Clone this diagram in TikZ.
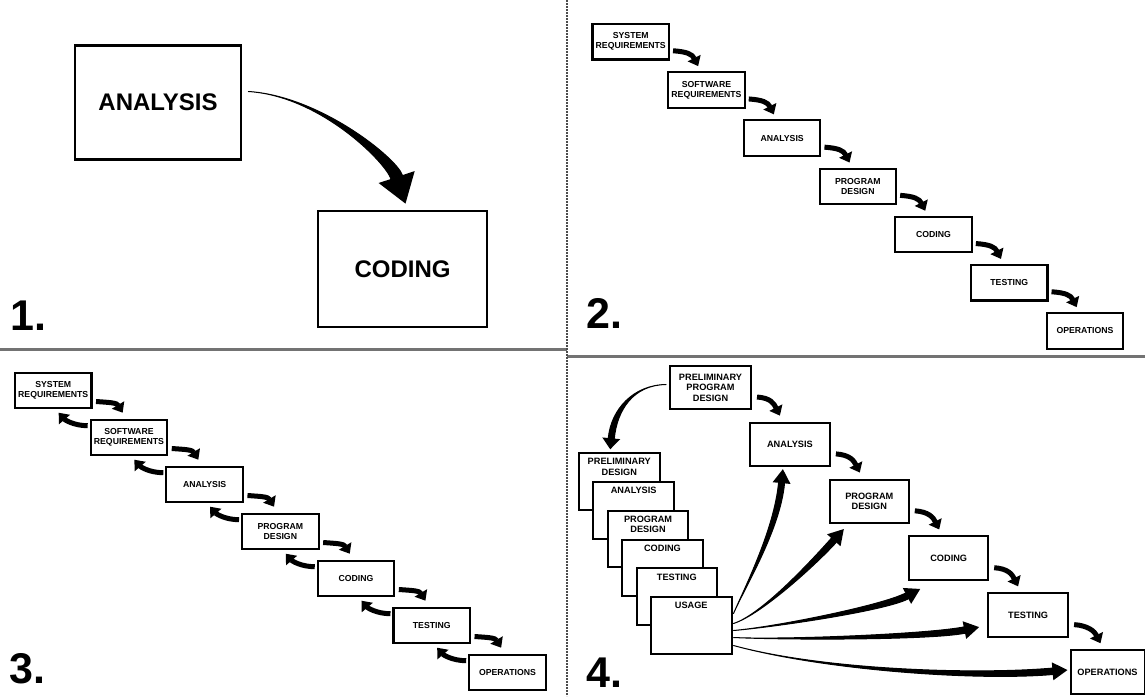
\documentclass[tikz,border=0pt]{standalone}
\usepackage{fontspec}
\setmainfont{Liberation Sans}
\usetikzlibrary{calc,positioning,arrows.meta}

% tapered arrow: start, control 1, control 2, tip, shaft half width, head half width, head length
\newcommand\taper[7]{%
  \coordinate (tT) at (#4);
  \coordinate (tC) at (#3);
  \coordinate (tE) at ($(tT)!#7!(tC)$);
  \coordinate (tA) at ($(tE)!#5!90:(tC)$);
  \coordinate (tB) at ($(tE)!#5!-90:(tC)$);
  \filldraw[line width=1pt,line join=round] (#1) .. controls (#2) and ($(tC)+(tA)-(tE)$) .. (tA)
    -- (tB) .. controls ($(tC)+(tB)-(tE)$) and (#2) .. (#1) -- cycle;
  \fill ($(tE)!#6!90:(tC)$) -- (tT) -- ($(tE)!#6!-90:(tC)$) -- cycle;
}

\begin{document}
\begin{tikzpicture}[x=1pt,y=-1pt,
  bigbox/.style={draw,line width=2.8pt,minimum width=166pt,minimum height=114pt,inner sep=0pt,
    font=\fontsize{24}{28}\selectfont\bfseries},
  smallbox/.style={draw,line width=2.1pt,minimum width=76.5pt,minimum height=35.5pt,inner sep=0pt,
    align=center,font=\fontsize{8.7}{10}\selectfont\bfseries},
  midbox/.style={draw,line width=2pt,minimum height=43.5pt,inner sep=0pt,
    align=center,font=\fontsize{9.2}{10.5}\selectfont\bfseries},
  card/.style={draw,fill=white,line width=2pt,minimum width=80.5pt,minimum height=56.5pt,inner sep=0pt},
  cardtxt/.style={inner sep=0pt,align=center,font=\fontsize{9.2}{10.5}\selectfont\bfseries},
  steparrow/.style={line width=5pt,-{Triangle[length=9pt,width=14pt]}},
  num/.style={anchor=base west,inner sep=0pt,font=\fontsize{43}{43}\selectfont\bfseries},
  divider/.style={black!55,line width=3pt}]

\fill[white] (0,0) rectangle (1145,696);
\useasboundingbox (0,0) rectangle (1145,696);

\draw[divider] (0,349) -- (567,349);
\draw[divider] (567,356) -- (1145,356);
\draw[black!70,line width=1.6pt,dash pattern=on 2pt off 1pt] (567,0) -- (567,696);

%panel 1
\node[bigbox] (an1) at (158,102.5) {ANALYSIS};
\node[bigbox,minimum width=169pt,minimum height=116pt] (co1) at (402.5,269) {CODING};
\taper{[shift={(6,-11)}]an1.east}{320,96}{391,160}{[shift={(3,-6)}]co1.north}{6pt}{19pt}{28pt}
\node[num] (n1) at (10,330) {1.};

%panel 2
\foreach \t [count=\i] in {{SYSTEM\\REQUIREMENTS},{SOFTWARE\\REQUIREMENTS},ANALYSIS,{PROGRAM\\DESIGN},CODING,TESTING,OPERATIONS}
  \node[smallbox] (s\i) at ({630.75+75.7*(\i-1)},{41.75+48.2*(\i-1)}) {\t};
\foreach \i [count=\j from 2] in {1,...,6}
  \draw[steparrow] ([shift={(3,9)}]s\i.east) .. controls +(14,1) and +(-6,-12) .. ([shift={(31,-5)}]s\j.north west);
\node[num] (n2) at (586,328) {2.};

%panel 3
\foreach \t [count=\i] in {{SYSTEM\\REQUIREMENTS},{SOFTWARE\\REQUIREMENTS},ANALYSIS,{PROGRAM\\DESIGN},CODING,TESTING,OPERATIONS}
  \node[smallbox] (w\i) at ({53.25+75.7*(\i-1)},{390.5+47*(\i-1)}) {\t};
\foreach \i [count=\j from 2] in {1,...,6} {
  \draw[steparrow] ([shift={(3.5,11)}]w\i.east) .. controls +(14,1) and +(-6,-10) .. ([shift={(33,-6)}]w\j.north west);
  \draw[steparrow] ([shift={(-2,7)}]w\j.north west) .. controls +(-14,0) and +(6,7) .. ([shift={(-31,-6)}]w\j.north west);
}
\node[num] (n3) at (9,683) {3.};

%panel 4
\foreach \t/\w [count=\i] in {{PRELIMINARY\\PROGRAM\\DESIGN}/81,ANALYSIS/80,{PROGRAM\\DESIGN}/79,CODING/79,TESTING/80,OPERATIONS/74}
  \node[midbox,minimum width=\w pt] (m\i) at ({710.5+79.4*(\i-1)},{387.5+56.9*(\i-1)}) {\t};
\foreach \i [count=\j from 2] in {1,...,5}
  \draw[steparrow] ([shift={(5,9.5)}]m\i.east) .. controls +(14,1) and +(-6,-12) .. ([shift={(31,-6)}]m\j.north west);

\foreach \t [count=\i] in {{PRELIMINARY\\DESIGN},ANALYSIS,{PROGRAM\\DESIGN},CODING,TESTING,USAGE} {
  \node[card] (c\i) at ({619.25+14.4*(\i-1)},{481.5+28.8*(\i-1)}) {};
  \node[cardtxt,below=6pt of c\i.north] (ct\i) {\t};
}
\taper{[shift={(-3,-3)}]m1.west}{633,385}{614,410}{[shift={(-9,-3)}]c1.north}{3pt}{9pt}{11pt}

\taper{[shift={(1,-12)}]c6.east}{745,587}{777,530}{[shift={(-7,2)}]m2.south}{3pt}{9pt}{14pt}
\taper{[shift={(1,-2)}]c6.east}{763,614}{818,558}{[shift={(15,5)}]m3.south west}{3.2pt}{9pt}{15pt}
\taper{[shift={(1,5)}]c6.east}{775,627}{884,608}{[shift={(12,8)}]m4.south west}{3.2pt}{9pt}{15pt}
\taper{[shift={(1,12)}]c6.east}{785,640}{930,637}{[shift={(-8,12)}]m5.west}{3.2pt}{9pt}{15pt}
\taper{[shift={(1,20)}]c6.east}{823,670}{975,678}{[shift={(-2,-2)}]m6.west}{3.2pt}{9pt}{15pt}
\node[num] (n4) at (586,687) {4.};
\end{tikzpicture}
\end{document}
